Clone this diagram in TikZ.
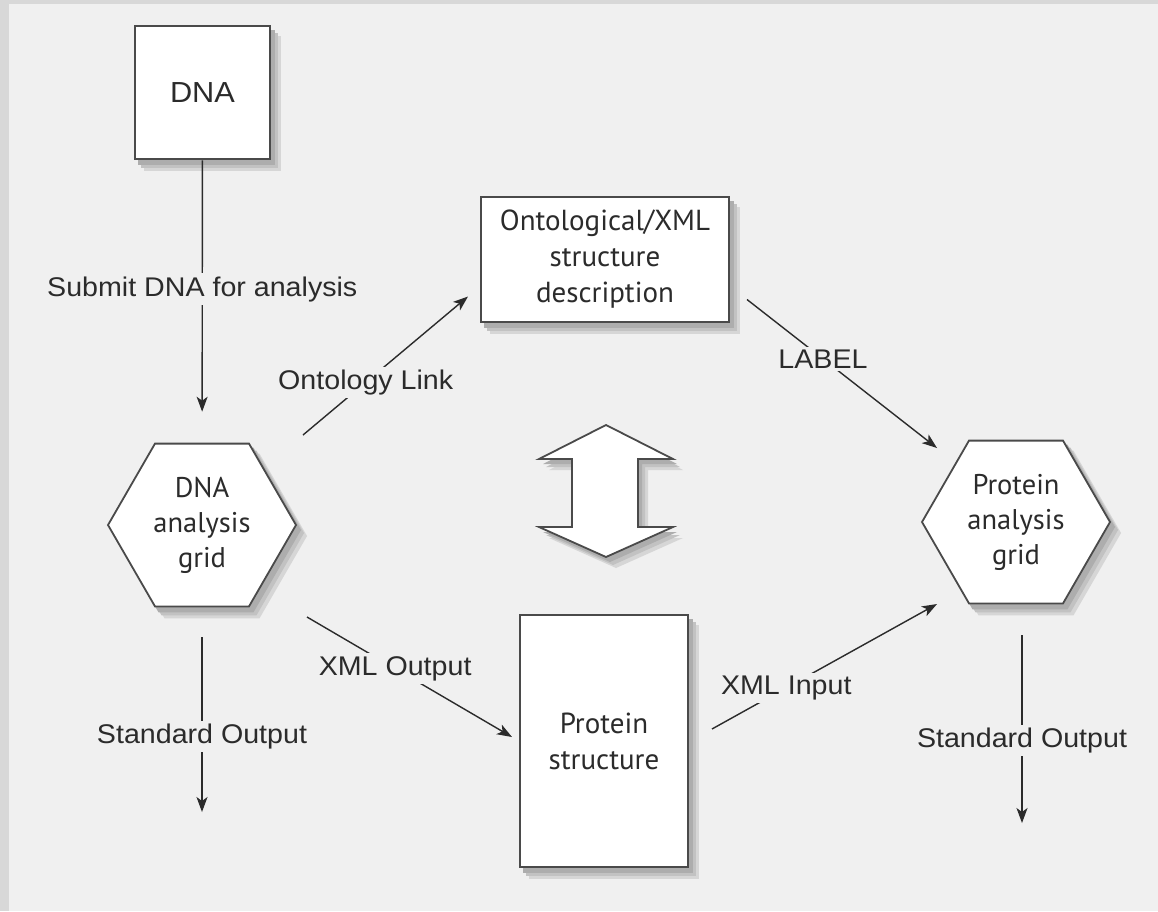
\documentclass[tikz,border=0pt]{standalone}
\usepackage{fontspec}
\setmainfont{Liberation Sans}[FakeStretch=1.06]
\newfontfamily\myr{PT Sans}
\usetikzlibrary{shapes.geometric,arrows.meta,calc}
\definecolor{framec}{HTML}{D8D8D8}
\definecolor{bgc}{HTML}{F0F0F0}
\definecolor{edgec}{HTML}{4A4A4A}
\definecolor{inkc}{HTML}{2B2B2B}
\definecolor{shfar}{HTML}{D6D6D6}
\definecolor{shmid}{HTML}{C2C2C2}
\definecolor{shnear}{HTML}{ADADAD}
\pgfdeclarelayer{bglayer}
\pgfdeclarelayer{shlayer}
\pgfsetlayers{bglayer,shlayer,main}
\tikzset{
  box/.style={draw=edgec, line width=2.6pt, fill=white, inner sep=0pt,
    align=center, text=inkc, font=\myr\fontsize{29}{36}\selectfont},
  hexa/.style={regular polygon, regular polygon sides=6, minimum size=188pt,
    draw=edgec, line width=1.8pt, fill=white, inner sep=0pt,
    align=center, text=inkc, font=\myr\fontsize{28.5}{35}\selectfont},
  conn/.style={draw=inkc, line width=1.4pt, -{Stealth[length=15pt,width=11pt,inset=4pt]}},
  lbl/.style={fill=bgc, inner sep=3pt, text=inkc, font=\fontsize{27}{32}\selectfont},
}
\newcommand\boxshadow[1]{%
  \fill[shfar] ([shift={(10,11)}]#1.north west) rectangle ([shift={(10,11)}]#1.south east);
  \fill[shmid] ([shift={(7,8)}]#1.north west) rectangle ([shift={(7,8)}]#1.south east);
  \fill[shnear] ([shift={(4,5)}]#1.north west) rectangle ([shift={(4,5)}]#1.south east);}
\newcommand\hexshadow[1]{%
  \foreach \dx/\dy/\cc in {10/11/shfar,7/8/shmid,4/5/shnear}{
    \fill[\cc] ([shift={(\dx,\dy)}]#1.corner 1) -- ([shift={(\dx,\dy)}]#1.corner 2)
      -- ([shift={(\dx,\dy)}]#1.corner 3) -- ([shift={(\dx,\dy)}]#1.corner 4)
      -- ([shift={(\dx,\dy)}]#1.corner 5) -- ([shift={(\dx,\dy)}]#1.corner 6) -- cycle;}}
\begin{document}
\begin{tikzpicture}[x=1pt,y=-1pt]
\useasboundingbox (0,0) rectangle (1158,911);
\begin{pgfonlayer}{bglayer}
\fill[framec] (0,0) rectangle (1158,911);
\fill[bgc] (9,4) rectangle (1158,911);
\end{pgfonlayer}

% nodes
\node[box, minimum width=135pt, minimum height=133pt, font=\fontsize{29}{34}\selectfont] (dna) at (202.5,92.5) {DNA};
\node[box, minimum width=248pt, minimum height=125pt] (onto) at (605,259.5) {Ontological/XML\\structure\\description};
\node[box, minimum width=168pt, minimum height=252pt] (prot) at (604,741) {Protein\\structure};
\node[hexa] (dgrid) at (202,525) {DNA\\analysis\\grid};
\node[hexa] (pgrid) at (1016,522) {Protein\\analysis\\grid};

% shadows
\begin{pgfonlayer}{shlayer}
\boxshadow{dna}
\boxshadow{onto}
\boxshadow{prot}
\hexshadow{dgrid}
\hexshadow{pgrid}
\foreach \dx/\dy/\cc in {10/11/shfar,7/8/shmid,4/5/shnear}{
  \fill[\cc, shift={(\dx,\dy)}]
  (606,425) -- (673,459) -- (638,459) -- (638,527) -- (673,527) -- (606,557)
  -- (539,527) -- (572,527) -- (572,459) -- (539,459) -- cycle;}
\end{pgfonlayer}

% double arrow
\draw[draw=edgec, line width=1.8pt, fill=white, line join=miter]
  (606,425) -- (673,459) -- (638,459) -- (638,527) -- (673,527) -- (606,557)
  -- (539,527) -- (572,527) -- (572,459) -- (539,459) -- cycle;

% free ends
\coordinate (soL) at (202,812);
\coordinate (soR) at (1022,823);

% connectors
\draw[conn, shorten >=31pt] (dna) -- node[lbl, pos=0.456] {Submit DNA for analysis} (dgrid);
\draw[conn] ([shift={(101,-90)}]dgrid.center) -- node[lbl, pos=0.38] {Ontology Link} ([shift={(-137,37)}]onto.center);
\draw[conn] ([shift={(142,40)}]onto.center) -- node[lbl, pos=0.4] {LABEL} ([shift={(-79,-74)}]pgrid.center);
\draw[conn] ([shift={(105,92)}]dgrid.center) -- node[lbl, pos=0.43] {XML Output} ([shift={(-92,-4)}]prot.center);
\draw[conn] ([shift={(108,-12)}]prot.center) -- node[lbl, pos=0.33] {XML Input} ([shift={(-79,82)}]pgrid.center);
\draw[conn] ([shift={(0,112)}]dgrid.center) -- node[lbl, pos=0.57] {Standard Output} (soL);
\draw[conn] ([shift={(6,113)}]pgrid.center) -- node[lbl, pos=0.56] {Standard Output} (soR);
\end{tikzpicture}
\end{document}
